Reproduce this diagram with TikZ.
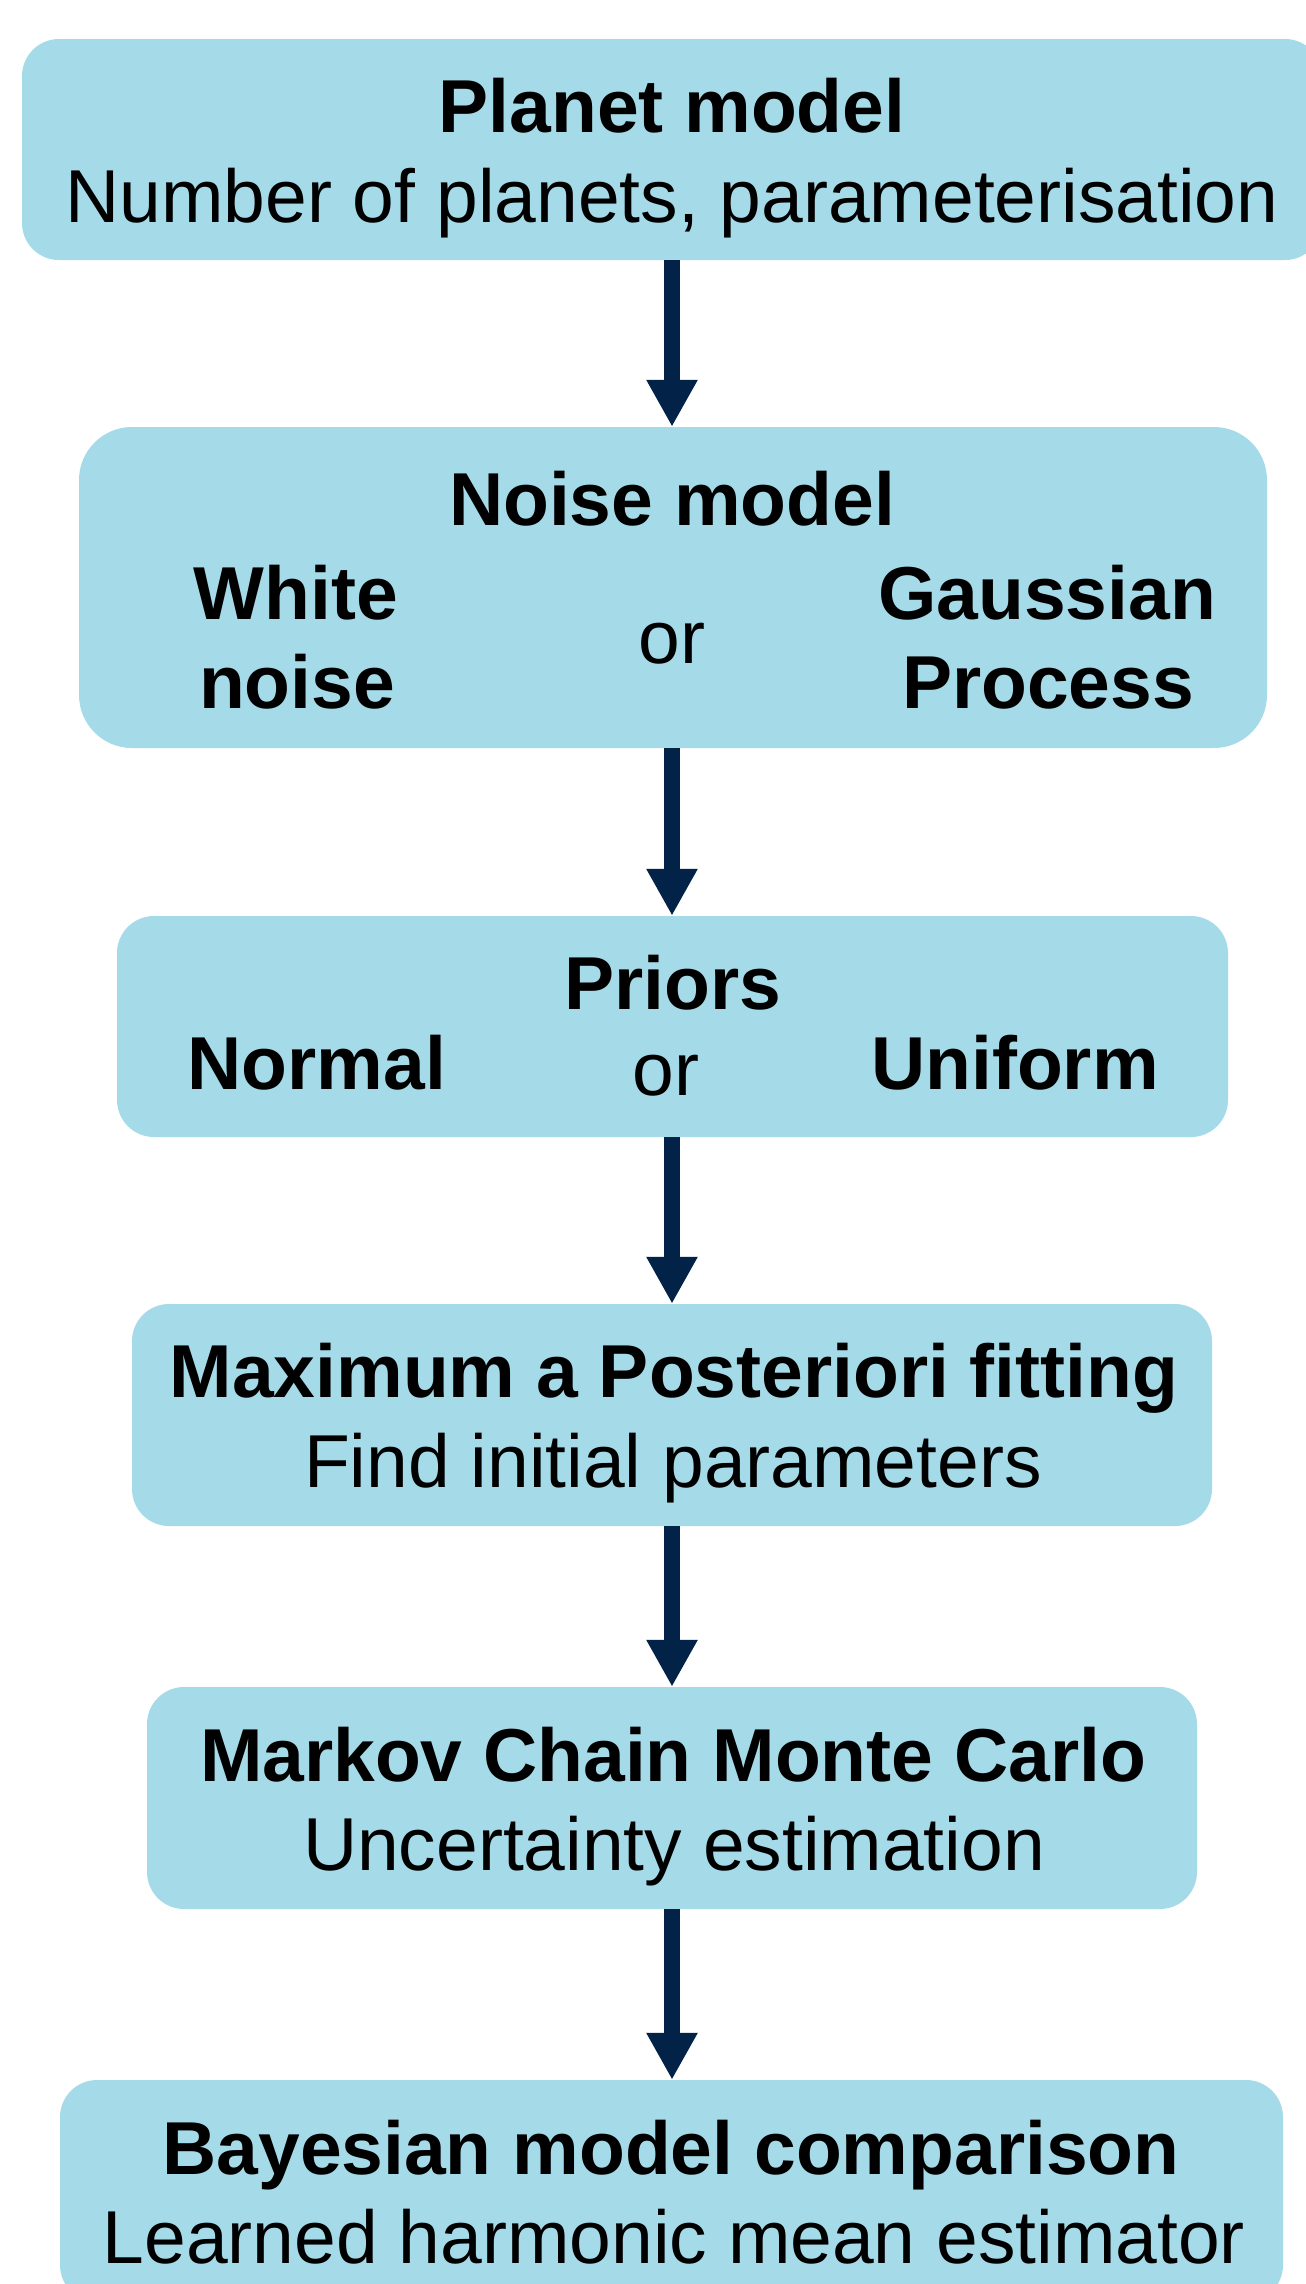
\documentclass[tikz,border=0pt]{standalone}
\usepackage{fontspec}
\setmainfont{Liberation Sans}
\usetikzlibrary{arrows.meta}

\definecolor{boxfill}{RGB}{165,219,232}
\definecolor{arrowcol}{RGB}{2,34,72}

\tikzset{
  stage/.style={rectangle, fill=boxfill, draw=none, inner sep=0pt,
                rounded corners=37pt},
  head/.style={anchor=base, inner sep=0pt, font=\fontsize{75pt}{90pt}\selectfont\bfseries},
  sub/.style={anchor=base, inner sep=0pt, font=\fontsize{75pt}{90pt}\selectfont},
  flow/.style={draw=arrowcol, line width=16pt,
               -{Triangle[width=48pt,length=47pt]}},
}

\begin{document}
\begin{tikzpicture}[x=1pt, y=-1pt]
  \useasboundingbox (0,0) rectangle (1306,2284);
  \clip (0,0) rectangle (1306,2284);

  % pipeline stages
  \node[stage, minimum width=1300pt, minimum height=221pt] (planet) at (672,149.5) {};
  \node[stage, minimum width=1188pt, minimum height=321pt, rounded corners=53pt] (noise) at (673,587.5) {};
  \node[stage, minimum width=1111pt, minimum height=221pt] (priors) at (672.5,1026.5) {};
  \node[stage, minimum width=1080pt, minimum height=222pt] (map) at (672,1415) {};
  \node[stage, minimum width=1050pt, minimum height=222pt] (mcmc) at (672,1798) {};
  \node[stage, minimum width=1223pt, minimum height=222pt] (evidence) at (671.5,2191) {};

  % stage texts
  \node[head] (planetT) at (672,132) {Planet model};
  \node[sub]  (planetS) at (672,222) {Number of planets, parameterisation};

  \node[head] (noiseT) at (672,525) {Noise model};
  \node[head] (white1) at (296,619) {White};
  \node[head] (white2) at (297,708) {noise};
  \node[sub]  (noiseOr) at (672,663) {or};
  \node[head] (gp1) at (1047,619) {Gaussian};
  \node[head] (gp2) at (1048,708) {Process};

  \node[head] (priorsT) at (673,1009) {Priors};
  \node[head] (normal) at (317,1089) {Normal};
  \node[sub]  (priorsOr) at (666,1095) {or};
  \node[head] (uniform) at (1015,1089) {Uniform};

  \node[head] (mapT) at (674,1397) {Maximum a Posteriori fitting};
  \node[sub]  (mapS) at (673,1487) {Find initial parameters};

  \node[head] (mcmcT) at (673,1781) {Markov Chain Monte Carlo};
  \node[sub]  (mcmcS) at (674,1870) {Uncertainty estimation};

  \node[head] (evT) at (671,2174) {Bayesian model comparison};
  \node[sub]  (evS) at (674,2263) {Learned harmonic mean estimator};

  % connectors
  \draw[flow] (planet.south) -- (planet.south |- noise.north);
  \draw[flow] (noise.south -| planet.south) -- (planet.south |- priors.north);
  \draw[flow] (priors.south -| planet.south) -- (planet.south |- map.north);
  \draw[flow] (map.south -| planet.south) -- (planet.south |- mcmc.north);
  \draw[flow] (mcmc.south -| planet.south) -- (planet.south |- evidence.north);
\end{tikzpicture}
\end{document}
